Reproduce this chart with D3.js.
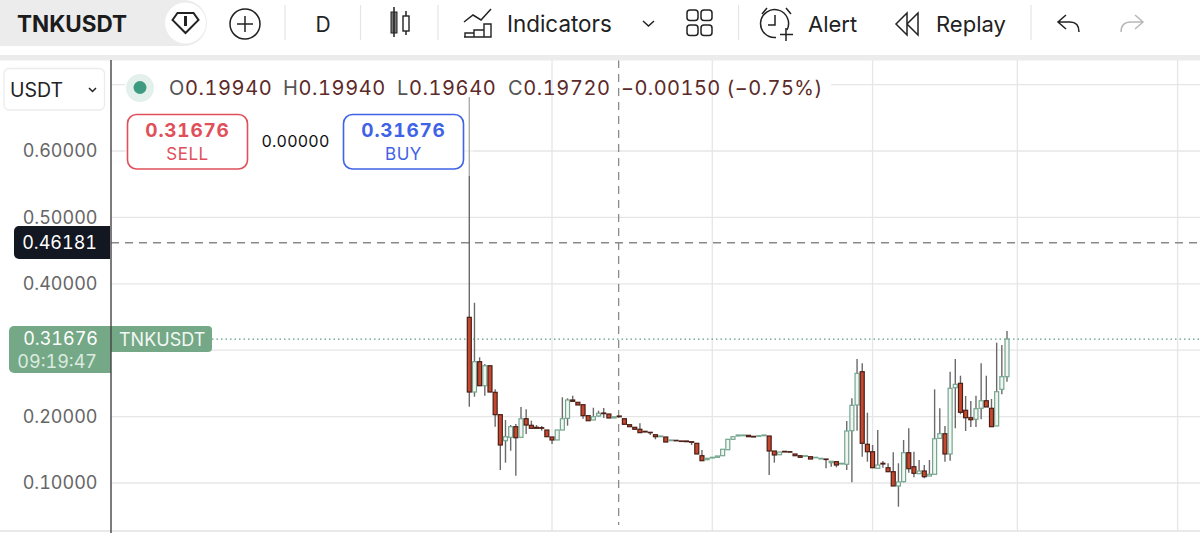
<!DOCTYPE html>
<html>
<head>
<meta charset="utf-8">
<script src="https://cdn.jsdelivr.net/npm/d3@7"></script>
<style>
  html, body { margin: 0; padding: 0; background: #fff; overflow: hidden; }
  text { font-family: Inter, "Noto Sans", sans-serif; font-variant-numeric: tabular-nums; }
</style>
</head>
<body>
<div id="chart"></div>
<script>
// values
const opens = [.3495,.2370,.2827,.2465,.2766,.2366,.2029,.1637,.1688,.1848,.1688,.1968,.1869,.1839,.1833,.1798,.1693,.1648,.1798,.1974,
  .2250,.2215,.2179,.2014,.1949,.2009,.2054,.2039,.1979,.2009,.1968,.1878,.1839,.1809,.1779,.1764,.1727,.1697,.1693,.1637,
  .1643,.1633,.1633,.1622,.1598,.1411,.1351,.1377,.1387,.1411,.1501,.1658,.1708,.1712,.1718,.1703,.1703,.1712,.1708,.1482,
  .1426,.1477,.1472,.1437,.1411,.1402,.1396,.1381,.1361,.1361,.1306,.1321,.1286,.1282,.1788,.2175,.2676,.1583,.1471,.1221,
  .1297,.1230,.1170,.0955,.1020,.1456,.1245,.1140,.1181,.1105,.1131,.1673,.1742,.1437,.2435,.2501,.2095,.1983,.1959,.2125,
  .2239,.2125,.1858,.2411,.2601];
const highs = [.6813,.3715,.2893,.2792,.2766,.2411,.2029,.1949,.1873,.1889,.2145,.2110,.1938,.1873,.1858,.1798,.1693,.1798,.2291,.2276,
  .2315,.2215,.2179,.2014,.2134,.2089,.2130,.2039,.1998,.2009,.1968,.1878,.1839,.1899,.1779,.1764,.1727,.1708,.1693,.1648,
  .1643,.1633,.1633,.1622,.1598,.1497,.1372,.1387,.1407,.1508,.1658,.1697,.1723,.1723,.1718,.1703,.1712,.1723,.1708,.1482,
  .1467,.1477,.1472,.1437,.1411,.1411,.1396,.1387,.1372,.1361,.1327,.1321,.1297,.1934,.2276,.2867,.2803,.2059,.1572,.1798,
  .1331,.1297,.1462,.1297,.1648,.1824,.1471,.1346,.1271,.1346,.2411,.2125,.1858,.2676,.2867,.2616,.2310,.2235,.2315,.2803,
  .2616,.2265,.3113,.3078,.3289];
const lows = [.2149,.2300,.2465,.2315,.2370,.1848,.1196,.1306,.1486,.1110,.1688,.1738,.1824,.1824,.1788,.1697,.1587,.1648,.1798,.1863,
  .2230,.2175,.1968,.1938,.1949,.1998,.1979,.1979,.1979,.1998,.1884,.1848,.1809,.1758,.1768,.1723,.1658,.1697,.1617,.1637,
  .1637,.1628,.1622,.1572,.1437,.1336,.1351,.1377,.1387,.1411,.1501,.1658,.1708,.1712,.1697,.1693,.1703,.1712,.1120,.1306,
  .1426,.1467,.1465,.1411,.1387,.1402,.1361,.1381,.1361,.1221,.1245,.1236,.1286,.1196,.1011,.1788,.1396,.1321,.1230,.1221,
  .1230,.1170,.0955,.0643,.1011,.1155,.1086,.1140,.1071,.1105,.1131,.1673,.1321,.1336,.1824,.2035,.1783,.1843,.1843,.1959,
  .2145,.1848,.1858,.2336,.2526];
const closes = [.2370,.2827,.2465,.2766,.2370,.2029,.1572,.1697,.1848,.1682,.1968,.1873,.1824,.1824,.1824,.1697,.1648,.1798,.1968,.2250,
  .2230,.2175,.2014,.1938,.1998,.2050,.2044,.1979,.1998,.1998,.1884,.1848,.1809,.1758,.1768,.1758,.1697,.1708,.1617,.1648,
  .1637,.1628,.1622,.1613,.1437,.1336,.1372,.1387,.1407,.1508,.1658,.1697,.1723,.1723,.1697,.1693,.1712,.1723,.1482,.1422,
  .1467,.1467,.1465,.1411,.1387,.1411,.1361,.1387,.1372,.1357,.1327,.1271,.1297,.1783,.2170,.2652,.1598,.1471,.1230,.1271,
  .1286,.1170,.0955,.1015,.1456,.1215,.1146,.1181,.1095,.1131,.1667,.1742,.1437,.2426,.2486,.2065,.1983,.1953,.2119,.2239,
  .2145,.1848,.2375,.2601,.31676];

// 0.30000 sits under the last price tag, so it has no label
const priceTicks = [0.1, 0.2, 0.4, 0.5, 0.6];
const gridPrices = [0.1, 0.2, 0.3, 0.4, 0.5, 0.6, 0.7];
const gridCandles = [16, 47, 78, 106, 137];
const crosshairCandle = 29;
const crosshairPrice = 0.46181;
const lastPrice = 0.31676;
const countdown = '09:19:47';
const symbol = 'TNKUSDT';
const legend = [['O', '0.19940'], ['H', '0.19940'], ['L', '0.19640'], ['C', '0.19720']];
const change = '\u22120.00150 (\u22120.75%)';

const width = 1200, height = 533;
const plotLeft = 111, plotTop = 60, plotBottom = 531;

const x = d3.scaleLinear().domain([0, opens.length - 1]).range([469.3, 1007]);
const y = d3.scaleLinear().domain([0.1, 0.7]).range([483, 84.6]);
const fmt = d3.format('.5f');

const svg = d3.select('#chart').append('svg')
  .attr('width', width)
  .attr('height', height)
  .style('display', 'block');

// grid
svg.selectAll('.grid-h').data(gridPrices).enter().append('line')
  .attr('x1', plotLeft).attr('x2', width)
  .attr('y1', d => y(d)).attr('y2', d => y(d))
  .attr('stroke', '#e6e6e6').attr('stroke-width', 1.3);

// white patches behind the legend and the order boxes, they only hide the horizontal lines
svg.append('rect').attr('x', 125).attr('y', 72).attr('width', 706).attr('height', 34).attr('fill', '#fff');
svg.append('rect').attr('x', 127).attr('y', 113).attr('width', 337).attr('height', 57).attr('fill', '#fff');

svg.selectAll('.grid-v').data(gridCandles).enter().append('line')
  .attr('x1', d => x(d)).attr('x2', d => x(d))
  .attr('y1', plotTop).attr('y2', plotBottom)
  .attr('stroke', '#e6e6e6').attr('stroke-width', 1.3);
svg.append('line')
  .attr('x1', 0).attr('x2', width).attr('y1', plotBottom).attr('y2', plotBottom)
  .attr('stroke', '#e2e2e2').attr('stroke-width', 1.3);

// price and time lines
svg.append('line')
  .attr('x1', plotLeft).attr('x2', width).attr('y1', y(crosshairPrice)).attr('y2', y(crosshairPrice))
  .attr('stroke', '#8a8a8a').attr('stroke-width', 1.3).attr('stroke-dasharray', '8 6');
svg.append('line')
  .attr('x1', x(crosshairCandle) - 0.6).attr('x2', x(crosshairCandle) - 0.6).attr('y1', plotTop).attr('y2', 525)
  .attr('stroke', '#8a8a8a').attr('stroke-width', 1.3).attr('stroke-dasharray', '8 6');
svg.append('line')
  .attr('x1', 212).attr('x2', width).attr('y1', y(lastPrice)).attr('y2', y(lastPrice))
  .attr('stroke', '#5f9c86').attr('stroke-width', 1.2).attr('stroke-dasharray', '1.5 3');

// candles
const candles = svg.selectAll('.candle').data(opens.map((o, i) => i)).enter().append('g').attr('class', 'candle');
candles.append('line')
  .attr('x1', i => x(i)).attr('x2', i => x(i))
  .attr('y1', i => y(highs[i])).attr('y2', i => y(lows[i]))
  .attr('stroke', '#6a6a6a').attr('stroke-width', 1.4);
candles.append('rect')
  .attr('x', i => x(i) - 2)
  .attr('width', 4)
  .attr('y', i => y(Math.max(opens[i], closes[i])))
  .attr('height', i => Math.max(0.5, Math.abs(y(opens[i]) - y(closes[i]))))
  .attr('fill', i => closes[i] >= opens[i] ? '#f1f6f3' : '#c4472e')
  .attr('stroke', i => closes[i] >= opens[i] ? '#74a68f' : '#4b1f17')
  .attr('stroke-width', 1.2);

// the order panel is a see-through layer, it fades the top of the long wick
svg.append('rect').attr('x', 125).attr('y', 72).attr('width', 348).attr('height', 104).attr('fill', '#fff').attr('opacity', 0.45);

// price axis
const yAxis = svg.append('g')
  .attr('transform', 'translate(97.5,0)')
  .call(d3.axisLeft(y).tickValues(priceTicks).tickSize(0).tickPadding(0).tickFormat(fmt));
yAxis.select('.domain').remove();
yAxis.selectAll('text')
  .style('font-family', 'Inter, "Noto Sans", sans-serif')
  .style('font-size', '18px')
  .attr('fill', '#666');

// toolbar
svg.append('rect').attr('x', 0).attr('y', 55).attr('width', width).attr('height', 5.5).attr('fill', '#ececec');
svg.append('path').attr('d', 'M0,0H184a23,23 0 0 1 0,46H0Z').attr('fill', '#ececec');
svg.append('circle').attr('cx', 185.5).attr('cy', 23).attr('r', 20.5).attr('fill', '#fff');
svg.append('text').attr('x', 17).attr('y', 32).attr('font-size', 22.5).attr('font-weight', 700).attr('fill', '#1c1c1c').text(symbol);

const icon = (d, color, w) => svg.append('path').attr('d', d).attr('fill', 'none')
  .attr('stroke', color || '#222').attr('stroke-width', w || 1.5);

icon('M172.5,20l5,-7h16l5,7l-13,13Z', '#222', 2);
icon('M185.5,16v10', '#222', 3);
icon('M245,16V32M237,24H253');
svg.append('circle').attr('cx', 245).attr('cy', 24).attr('r', 15).attr('fill', 'none').attr('stroke', '#222').attr('stroke-width', 1.5);

svg.selectAll('.sep').data([285, 360.5, 438, 738.5, 1031]).enter().append('line')
  .attr('x1', d => d).attr('x2', d => d).attr('y1', 5).attr('y2', 40)
  .attr('stroke', '#e4e4e4').attr('stroke-width', 1.2);

svg.append('text').attr('x', 323).attr('y', 32).attr('text-anchor', 'middle').attr('font-size', 21).attr('fill', '#222').text('D');

// candle icon
svg.append('rect').attr('x', 391).attr('y', 12).attr('width', 6).attr('height', 21).attr('fill', '#777').attr('stroke', '#222');
icon('M394,7V37M406,11V35');
svg.append('rect').attr('x', 403).attr('y', 16).attr('width', 6).attr('height', 15).attr('fill', '#fff').attr('stroke', '#222').attr('stroke-width', 1.4);

// indicators icon
icon('M464,22l9,-7l8,5l10,-11');
icon('M464,37H491V24H484V37M484,30H474V37M474,33H465V37', '#222', 1.4);
svg.append('text').attr('x', 507).attr('y', 32).attr('font-size', 22.4).attr('fill', '#222').text('Indicators');
icon('M643,21l5.5,5l5.5,-5', '#222', 1.5);

// layout icon
svg.selectAll('.cell').data([[687, 10], [701, 10], [687, 25], [701, 25]]).enter().append('rect')
  .attr('x', d => d[0]).attr('y', d => d[1]).attr('width', 11).attr('height', 10.5).attr('rx', 3)
  .attr('fill', 'none').attr('stroke', '#222').attr('stroke-width', 1.5);

// alert icon
icon('M787,30A14,14 0 1 0 776,37.5');
icon('M775,15V25H768');
icon('M762,14l5,-6M786,8l5,6');
icon('M786,28V41M780,34.5H793');
svg.append('text').attr('x', 808).attr('y', 32).attr('font-size', 22).attr('fill', '#222').text('Alert');

// replay icon
icon('M907,13l-11,11l11,11ZM918,13l-11,11l11,11Z', '#222', 1.5);
svg.append('text').attr('x', 936).attr('y', 32).attr('font-size', 22).attr('fill', '#222').text('Replay');

// undo / redo
icon('M1066,15l-8,7l8,7M1058,22H1070Q1079,22 1079,32', '#222', 1.5);
icon('M1135,15l8,7l-8,7M1143,22H1131Q1121,22 1121,32', '#b8b8b8', 1.5);

// currency select
svg.append('rect').attr('x', 4).attr('y', 68.5).attr('width', 100.5).attr('height', 41.5).attr('rx', 5)
  .attr('fill', '#fff').attr('stroke', '#ececec').attr('stroke-width', 1.3);
svg.append('text').attr('x', 10).attr('y', 97).attr('font-size', 19.5).attr('fill', '#222').text('USDT');
icon('M89,88l3.5,3.5l3.5,-3.5', '#222', 1.5);

// legend line
svg.append('circle').attr('cx', 140).attr('cy', 88).attr('r', 14).attr('fill', '#e4f0ec');
svg.append('circle').attr('cx', 140).attr('cy', 87.5).attr('r', 6.5).attr('fill', '#3f9a82');
const legendX = [169, 283, 397, 508];
legend.forEach((d, i) => {
  const t = svg.append('text').attr('x', legendX[i]).attr('y', 95).attr('font-size', 20).attr('letter-spacing', 0.6);
  t.append('tspan').attr('fill', '#555').text(d[0]);
  t.append('tspan').attr('fill', '#5c2a28').text(d[1]);
});
svg.append('text').attr('x', 621).attr('y', 95).attr('font-size', 20).attr('letter-spacing', 0.45).attr('fill', '#5c2a28').text(change);

// sell / buy boxes
const orderBox = (left, color, label) => {
  svg.append('rect').attr('x', left).attr('y', 114.5).attr('width', 120).attr('height', 54.5).attr('rx', 9)
    .attr('fill', '#fff').attr('stroke', color).attr('stroke-width', 1.6);
  svg.append('text').attr('x', left + 60).attr('y', 137).attr('text-anchor', 'middle')
    .attr('font-size', 19).attr('font-weight', 700).attr('letter-spacing', 0.8).attr('fill', color).text(fmt(lastPrice));
  svg.append('text').attr('x', left + 60).attr('y', 160).attr('text-anchor', 'middle')
    .attr('font-size', 17).attr('letter-spacing', 0.5).attr('fill', color).text(label);
};
orderBox(127.5, '#e0505a', 'SELL');
orderBox(343.5, '#3f63e6', 'BUY');
svg.append('text').attr('x', 295.5).attr('y', 147).attr('text-anchor', 'middle').attr('font-size', 16).attr('letter-spacing', 0.2).attr('fill', '#111').text('0.00000');

// price labels on the axis
svg.append('path').attr('d', 'M19,226H110V259H19a5,5 0 0 1 -5,-5V231a5,5 0 0 1 5,-5Z').attr('fill', '#131722');
svg.append('text').attr('x', 97).attr('y', y(crosshairPrice) + 6.5).attr('text-anchor', 'end')
  .attr('font-size', 18).attr('fill', '#fff').text(fmt(crosshairPrice));

svg.append('path').attr('d', 'M14,326H111V373H14a5,5 0 0 1 -5,-5V331a5,5 0 0 1 5,-5Z').attr('fill', '#75a886');
svg.append('path').attr('d', 'M111,326H208a4,4 0 0 1 4,4V348a4,4 0 0 1 -4,4H111Z').attr('fill', '#75a886');
svg.append('text').attr('x', 98).attr('y', 345).attr('text-anchor', 'end')
  .attr('font-size', 18).attr('fill', '#fff').text(fmt(lastPrice));
svg.append('text').attr('x', 97).attr('y', 367.5).attr('text-anchor', 'end')
  .attr('font-size', 18).attr('fill', '#dcebe1').text(countdown);
svg.append('text').attr('x', 119).attr('y', 345.5).attr('font-size', 18).attr('fill', '#f2f8f4').text(symbol);

// axis border
svg.append('line').attr('x1', plotLeft).attr('x2', plotLeft).attr('y1', plotTop).attr('y2', height)
  .attr('stroke', '#444').attr('stroke-width', 1.4);
</script>
</body>
</html>
